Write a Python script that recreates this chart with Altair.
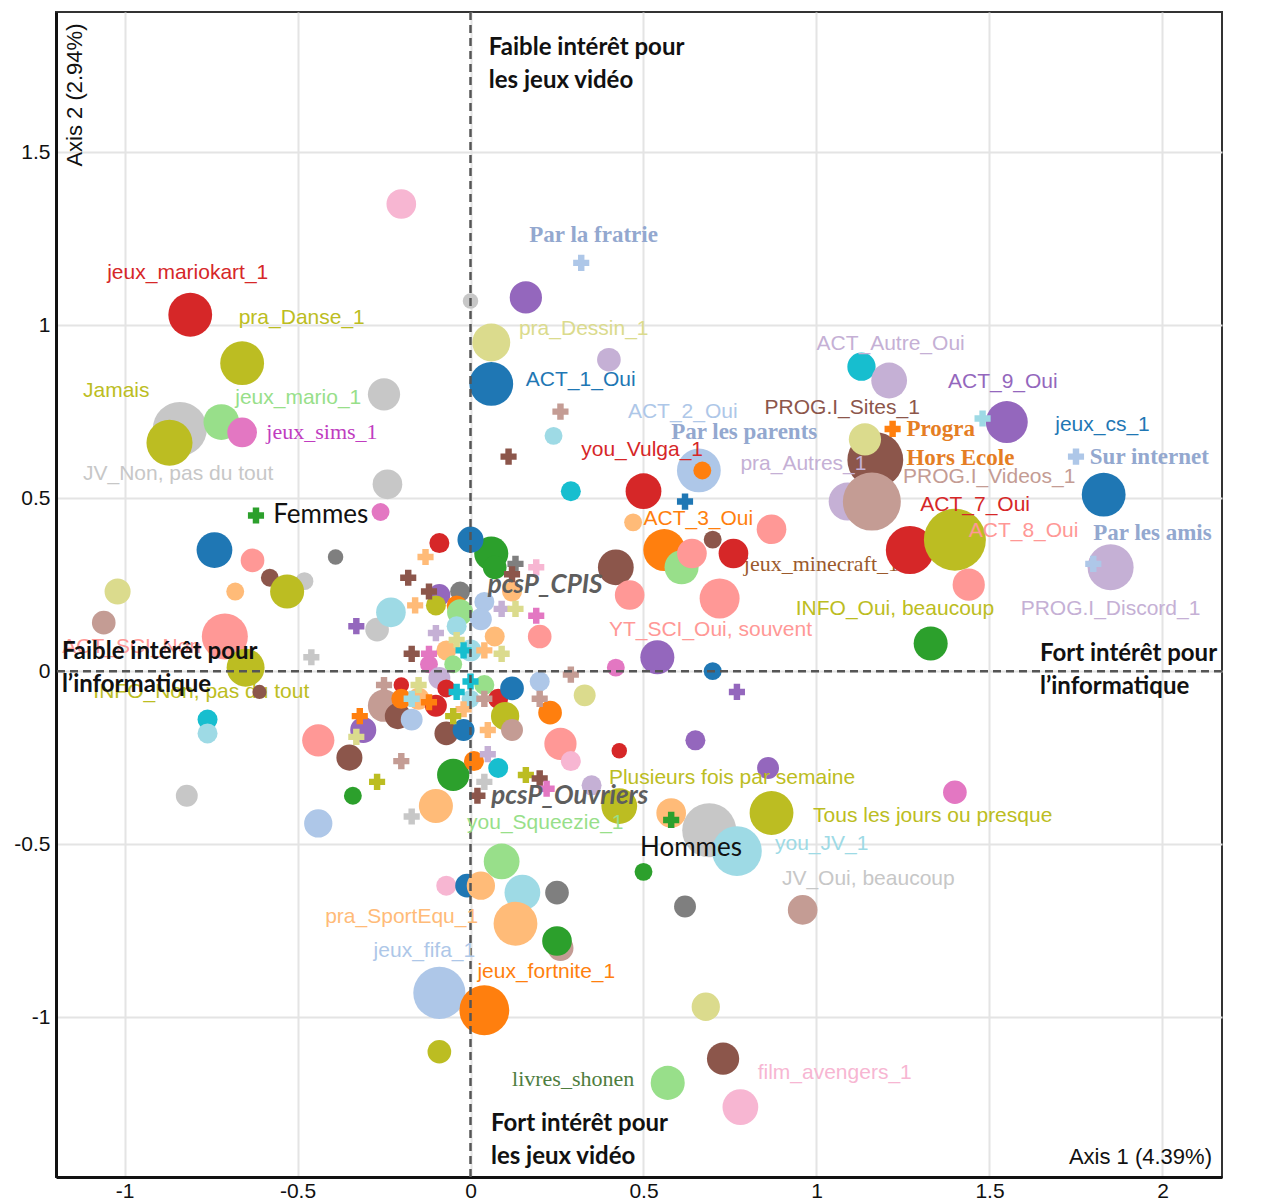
import altair as alt
import pandas as pd

# ---------------- circles: factorial coordinates, weight, colour key ----------------
circ_x = [-0.20, -0.81, -0.66, -0.25, -0.84, -0.72, -0.66, -0.87, -0.24, -0.26,
          0.00, 0.16, 0.06, 0.40, 0.06, 0.24, 0.29, 1.13, 1.21, 1.55,
          1.83, 1.85, 0.66, 0.67, 0.50, 1.09, 1.17, 1.14, 1.16, 1.27,
          1.44, 1.40, 1.33, 0.87, 0.70, 0.76, 0.47, 0.56, 0.61, 0.64,
          0.42, 0.46, 0.72, 0.54, 0.42, 0.70, 0.20, 0.65, 0.43, 0.86,
          1.40, 0.87, 0.69, 0.77, 0.58, 0.50, 0.62, 0.96, 0.68, 0.73,
          0.57, 0.78, -0.09, 0.04, -0.09, 0.15, 0.13, 0.25, 0.26, 0.25,
          0.09, -0.07, -0.01, 0.03, -0.10, -0.05, -0.44, -0.34, -0.44, -0.35,
          -0.76, -0.76, -0.82, -0.74, -0.63, -0.58, -0.48, -0.53, -0.39, -0.68,
          -1.02, -1.06, -0.71, -0.65, -0.61, -0.27, -0.23, -0.09, 0.06, 0.07,
          0.00, -0.09, -0.03, -0.04, -0.10, -0.03, -0.04, 0.04, 0.12, 0.03,
          0.07, -0.07, 0.00, -0.05, -0.12, -0.20, -0.09, -0.07, 0.04, -0.25,
          -0.21, -0.31, -0.20, -0.15, -0.17, -0.10, 0.00, 0.08, 0.12, 0.10,
          0.12, -0.07, -0.02, 0.01, 0.08, 0.20, 0.23, 0.26, 0.29, 0.33,
          0.35, 0.43]
circ_y = [1.35, 1.03, 0.89, 0.80, 0.70, 0.72, 0.69, 0.66, 0.54, 0.46,
          1.07, 1.08, 0.95, 0.90, 0.83, 0.68, 0.52, 0.88, 0.84, 0.72,
          0.51, 0.30, 0.58, 0.58, 0.52, 0.49, 0.61, 0.67, 0.49, 0.35,
          0.25, 0.38, 0.08, 0.41, 0.38, 0.34, 0.43, 0.35, 0.30, 0.34,
          0.30, 0.22, 0.21, 0.04, 0.01, 0.00, 0.10, -0.20, -0.23, -0.28,
          -0.35, -0.41, -0.46, -0.52, -0.41, -0.58, -0.68, -0.69, -0.97, -1.12,
          -1.19, -1.26, -0.93, -0.98, -1.10, -0.64, -0.73, -0.64, -0.80, -0.78,
          -0.55, -0.62, -0.62, -0.62, -0.39, -0.30, -0.44, -0.36, -0.20, -0.25,
          -0.14, -0.18, -0.36, 0.35, 0.32, 0.27, 0.26, 0.23, 0.33, 0.23,
          0.23, 0.14, 0.10, 0.01, -0.06, 0.12, 0.17, 0.37, 0.34, 0.30,
          0.38, 0.22, 0.23, 0.19, 0.19, 0.17, 0.13, 0.20, 0.23, 0.15,
          0.10, 0.06, 0.06, 0.02, 0.02, -0.04, -0.02, -0.05, -0.04, -0.10,
          -0.13, -0.17, -0.08, -0.08, -0.14, -0.10, -0.08, -0.08, -0.05, -0.13,
          -0.17, -0.18, -0.17, -0.26, -0.28, -0.03, -0.12, -0.21, -0.26, -0.07,
          -0.33, -0.39]
circ_w = [22, 48, 48, 26, 73, 32, 22, 53, 22, 8,
          6, 26, 36, 14, 48, 8, 10, 20, 32, 44,
          48, 53, 48, 8, 32, 36, 78, 26, 84, 58,
          26, 96, 29, 22, 8, 22, 8, 44, 29, 22,
          32, 22, 40, 29, 8, 8, 14, 10, 6, 12,
          14, 48, 73, 62, 22, 8, 12, 22, 20, 26,
          29, 32, 68, 62, 14, 32, 48, 14, 17, 22,
          32, 10, 14, 20, 29, 26, 20, 8, 26, 17,
          10, 10, 12, 32, 14, 8, 8, 29, 6, 8,
          17, 14, 53, 36, 5, 14, 22, 10, 29, 14,
          17, 12, 10, 10, 10, 17, 10, 10, 10, 12,
          10, 10, 12, 8, 8, 6, 12, 8, 10, 26,
          17, 17, 10, 12, 12, 12, 8, 10, 14, 20,
          12, 14, 12, 10, 10, 10, 14, 26, 10, 12,
          10, 32]
circ_c = ["LPK", "R", "OL", "LGR", "LGR", "LG", "PK", "OL", "LGR", "PK",
          "LGR", "P", "LOL", "LP", "B", "LC", "C", "C", "LP", "P",
          "B", "LP", "LB", "O", "R", "LP", "BR", "LOL", "LBR", "R",
          "S", "OL", "G", "S", "BR", "R", "LO", "O", "LG", "S",
          "BR", "S", "S", "P", "PK", "B", "S", "P", "R", "P",
          "PK", "OL", "LGR", "LC", "LO", "G", "GR", "LBR", "LOL", "BR",
          "LG", "LPK", "LB", "O", "OL", "LC", "LO", "GR", "LBR", "G",
          "LG", "LPK", "B", "LO", "LO", "G", "LB", "G", "S", "BR",
          "C", "LC", "LGR", "B", "S", "BR", "LGR", "OL", "GR", "LO",
          "LOL", "LBR", "S", "OL", "BR", "LGR", "LC", "R", "G", "G",
          "B", "P", "GR", "O", "OL", "LG", "LC", "LB", "LO", "LB",
          "LO", "LO", "LC", "LG", "PK", "R", "LP", "R", "LG", "LBR",
          "BR", "P", "O", "LO", "LB", "R", "LC", "R", "B", "OL",
          "LBR", "BR", "B", "O", "C", "LB", "O", "S", "LPK", "LOL",
          "LP", "OL"]

# ---------------- crosses (supplementary categories) ----------------
cross_x = [0.32, 0.26, 0.11, 0.62, 1.22, 1.48, 1.75, 1.80, 0.77, 0.58,
           -0.62, -0.46, 0.29, -0.33, -0.18, -0.13, -0.12, 0.13, 0.12, 0.19,
           -0.16, 0.09, 0.13, 0.19, -0.10, -0.04, -0.17, -0.12, -0.02, 0.04,
           0.09, -0.15, -0.25, -0.32, -0.33, -0.17, -0.12, 0.00, -0.04, 0.04,
           -0.02, -0.05, 0.05, 0.05, -0.20, -0.27, -0.17, 0.20, 0.16, 0.20,
           0.22, 0.04, 0.02]
cross_y = [1.18, 0.75, 0.62, 0.49, 0.70, 0.73, 0.62, 0.31, -0.06, -0.43,
           0.45, 0.04, -0.01, 0.13, 0.27, 0.33, 0.23, 0.31, 0.28, 0.30,
           0.19, 0.18, 0.18, 0.16, 0.11, 0.09, 0.05, 0.05, 0.06, 0.06,
           0.05, -0.04, -0.04, -0.13, -0.19, -0.08, -0.09, -0.03, -0.06, -0.08,
           -0.11, -0.13, -0.17, -0.24, -0.26, -0.32, -0.42, -0.08, -0.30, -0.31,
           -0.34, -0.32, -0.36]
cross_c = ["LB", "LBR", "BR", "B", "O", "LC", "LB", "LB", "P", "G",
           "G", "LGR", "LBR", "P", "BR", "LO", "BR", "GR", "BR", "LPK",
           "LO", "LP", "LOL", "PK", "LP", "LOL", "BR", "PK", "C", "LO",
           "LOL", "LOL", "LBR", "O", "LOL", "LC", "O", "C", "C", "LBR",
           "LO", "OL", "LO", "LP", "LBR", "OL", "LGR", "LBR", "OL", "BR",
           "PK", "LGR", "BR"]

# ---------------- category labels ----------------
lab_text = ["jeux_mariokart_1", "pra_Danse_1", "Jamais", "jeux_mario_1", "jeux_sims_1",
            "JV_Non, pas du tout", "Femmes", "pra_Dessin_1", "ACT_1_Oui", "Par la fratrie",
            "ACT_2_Oui", "Par les parents", "you_Vulga_1", "pra_Autres_1", "PROG.I_Sites_1",
            "ACT_Autre_Oui", "ACT_9_Oui", "jeux_cs_1", "Sur internet", "Progra",
            "Hors Ecole", "PROG.I_Videos_1", "ACT_7_Oui", "ACT_8_Oui", "Par les amis",
            "jeux_minecraft_1", "INFO_Oui, beaucoup", "PROG.I_Discord_1", "YT_SCI_Oui, souvent", "ACT_3_Oui",
            "pcsP_CPIS", "ACT_SCI_Non", "INFO_Non, pas du tout", "Plusieurs fois par semaine", "pcsP_Ouvriers",
            "you_Squeezie_1", "Tous les jours ou presque", "Hommes", "you_JV_1", "JV_Oui, beaucoup",
            "pra_SportEqu_1", "jeux_fifa_1", "jeux_fortnite_1", "livres_shonen", "film_avengers_1"]
lab_x = [-1.05, -0.67, -1.12, -0.68, -0.59,
         -1.12, -0.57, 0.14, 0.16, 0.17,
         0.455, 0.58, 0.32, 0.78, 0.85,
         1.00, 1.38, 1.69, 1.79, 1.26,
         1.26, 1.25, 1.30, 1.44, 1.80,
         0.79, 0.94, 1.59, 0.40, 0.50,
         0.05, -1.18, -1.09, 0.40, 0.06,
         -0.01, 0.99, 0.49, 0.88, 0.90,
         -0.42, -0.28, 0.02, 0.12, 0.83]
lab_y = [1.15, 1.02, 0.81, 0.79, 0.69,
         0.57, 0.45, 0.99, 0.84, 1.26,
         0.75, 0.69, 0.64, 0.60, 0.76,
         0.945, 0.835, 0.71, 0.62, 0.70,
         0.615, 0.56, 0.48, 0.405, 0.40,
         0.31, 0.18, 0.18, 0.12, 0.44,
         0.25, 0.07, -0.06, -0.31, -0.36,
         -0.44, -0.42, -0.51, -0.50, -0.60,
         -0.71, -0.81, -0.87, -1.18, -1.16]
lab_c = ["R", "OL", "OL", "LG", "T_SIMS",
         "LGR", "T_BLACK", "LOL", "B", "T_LBS",
         "LB", "T_LBS", "R", "LP", "BR",
         "LP", "P", "B", "T_LBS", "T_OR",
         "T_OR", "LBR", "R", "S", "T_LBS",
         "T_MINE", "OL", "LP", "S", "O",
         "T_PCS", "S", "OL", "OL", "T_PCS",
         "LG", "OL", "T_BLACK", "LC", "LGR",
         "LO", "LB", "O", "T_SHONEN", "LPK"]
lab_style = ["sans", "sans", "sans", "sans", "serif",
             "sans", "sex", "sans", "sans", "serifb",
             "sans", "serifb", "sans", "sans", "sans",
             "sans", "sans", "sans", "serifb", "serifb",
             "serifb", "sans", "sans", "sans", "serifb",
             "serif_u", "sans", "sans", "sans", "sans",
             "pcs", "sans_u", "sans_u", "sans", "pcs",
             "sans", "sans", "sex", "sans", "sans",
             "sans", "sans", "sans", "serif", "sans"]

# ---------------- quadrant annotations and axis titles ----------------
quad_text = ["Faible intérêt pour", "les jeux vidéo",
             "Faible intérêt pour", "l’informatique",
             "Fort intérêt pour", "l’informatique",
             "Fort intérêt pour", "les jeux vidéo"]
quad_x = [0.053, 0.053, -1.181, -1.181, 1.646, 1.646, 0.059, 0.059]
quad_y = [1.801, 1.705, 0.055, -0.040, 0.049, -0.046, -1.309, -1.405]

tick_vals_x = [-1, -0.5, 0, 0.5, 1, 1.5, 2]
tick_vals_y = [-1, -0.5, 0, 0.5, 1, 1.5]
x_domain = [-1.198, 2.172]
y_domain = [-1.462, 1.905]

palette = {
    "B": "#1f77b4", "LB": "#aec7e8", "O": "#ff7f0e", "LO": "#ffbb78",
    "G": "#2ca02c", "LG": "#98df8a", "R": "#d62728", "S": "#ff9896",
    "P": "#9467bd", "LP": "#c5b0d5", "BR": "#8c564b", "LBR": "#c49c94",
    "PK": "#e377c2", "LPK": "#f7b6d2", "GR": "#7f7f7f", "LGR": "#c7c7c7",
    "OL": "#bcbd22", "LOL": "#dbdb8d", "C": "#17becf", "LC": "#9edae5",
    "T_SIMS": "#c03cbf", "T_SHONEN": "#4e7d3e", "T_MINE": "#9b5a2c",
    "T_OR": "#e57e24", "T_LBS": "#93a8cf", "T_PCS": "#5e5e5e", "T_BLACK": "#111111",
}
color_scale = alt.Scale(domain=list(palette.keys()), range=list(palette.values()))

circles = pd.DataFrame({"x": circ_x, "y": circ_y, "w": circ_w, "c": circ_c})
circles["o"] = range(len(circles))
crosses = pd.DataFrame({"x": cross_x, "y": cross_y, "c": cross_c})
labels = pd.DataFrame({"x": lab_x, "y": lab_y, "label": lab_text, "c": lab_c, "style": lab_style})
quads = pd.DataFrame({"x": quad_x, "y": quad_y, "label": quad_text})

X = alt.X("x:Q", scale=alt.Scale(domain=x_domain, nice=False, zero=False),
          axis=alt.Axis(values=tick_vals_x, labelExpr="'' + datum.value", title=None,
                        grid=True, gridColor="#e4e4e4", gridWidth=2,
                        domainColor="#111111", domainWidth=3, tickSize=0,
                        labelFont="Liberation Sans", labelFontSize=21, labelColor="#111111",
                        labelPadding=3, labelFlush=False))
Y = alt.Y("y:Q", scale=alt.Scale(domain=y_domain, nice=False, zero=False),
          axis=alt.Axis(values=tick_vals_y, labelExpr="'' + datum.value", title=None,
                        grid=True, gridColor="#e4e4e4", gridWidth=2,
                        domainColor="#111111", domainWidth=3, tickSize=0,
                        labelFont="Liberation Sans", labelFontSize=21, labelColor="#111111",
                        labelPadding=6, labelFlush=False))
COL = alt.Color("c:N", scale=color_scale, legend=None)


def text_layer(style, font, size, weight="normal", fstyle="normal"):
    return alt.Chart(labels).transform_filter(alt.datum.style == style).mark_text(
        align="left", baseline="middle", font=font, fontSize=size,
        fontWeight=weight, fontStyle=fstyle).encode(x=X, y=Y, text="label:N", color=COL)


under_sans = text_layer("sans_u", "Liberation Sans", 21)
under_serif = text_layer("serif_u", "Liberation Serif", 22)

circle_layer = alt.Chart(circles).mark_point(filled=True, shape="circle", opacity=1,
                                             strokeWidth=0).encode(
    x=X, y=Y, color=COL,
    size=alt.Size("w:Q", scale=alt.Scale(domain=[0, 100], range=[0, 4000]), legend=None),
    order=alt.Order("o:Q"))

cross_layer = alt.Chart(crosses).mark_point(filled=True, shape="cross", size=260,
                                            opacity=1, strokeWidth=0).encode(
    x=X, y=Y, color=COL)

vrule = alt.Chart(pd.DataFrame({"x": [0]})).mark_rule(
    color="#555555", strokeWidth=2.5, strokeDash=[8, 5]).encode(x=X)
hrule = alt.Chart(pd.DataFrame({"y": [0]})).mark_rule(
    color="#555555", strokeWidth=2.5, strokeDash=[8, 5]).encode(y=Y)

sans = text_layer("sans", "Liberation Sans", 21)
serif = text_layer("serif", "Liberation Serif", 22)
serifb = text_layer("serifb", "Liberation Serif", 23, "bold")
pcs = text_layer("pcs", "Lato", 26, "bold", "italic")
sex = text_layer("sex", "Lato", 26)

quad_layer = alt.Chart(quads).mark_text(
    align="left", baseline="middle", font="Lato", fontSize=24, fontWeight="bold",
    color="#111111").encode(x=X, y=Y, text="label:N")

ax2 = alt.Chart(pd.DataFrame({"x": [-1.142], "y": [1.665], "label": ["Axis 2 (2.94%)"]})).mark_text(
    angle=270, align="center", baseline="middle", font="Liberation Sans", fontSize=22,
    color="#111111").encode(x=X, y=Y, text="label:N")
ax1 = alt.Chart(pd.DataFrame({"x": [2.143], "y": [-1.405], "label": ["Axis 1 (4.39%)"]})).mark_text(
    align="right", baseline="middle", font="Liberation Sans", fontSize=22,
    color="#111111").encode(x=X, y=Y, text="label:N")

chart = alt.layer(
    under_sans, under_serif, circle_layer, cross_layer, vrule, hrule,
    sans, serif, serifb, pcs, sex, quad_layer, ax2, ax1
).properties(
    width=1166, height=1165,
    background="white",
    autosize=alt.AutoSizeParams(type="none"),
    padding={"left": 48, "top": 4, "right": 20, "bottom": 40},
).configure_view(stroke="#333333", strokeWidth=2)

chart.save("out.html", embed_options={"renderer": "svg", "actions": False})
